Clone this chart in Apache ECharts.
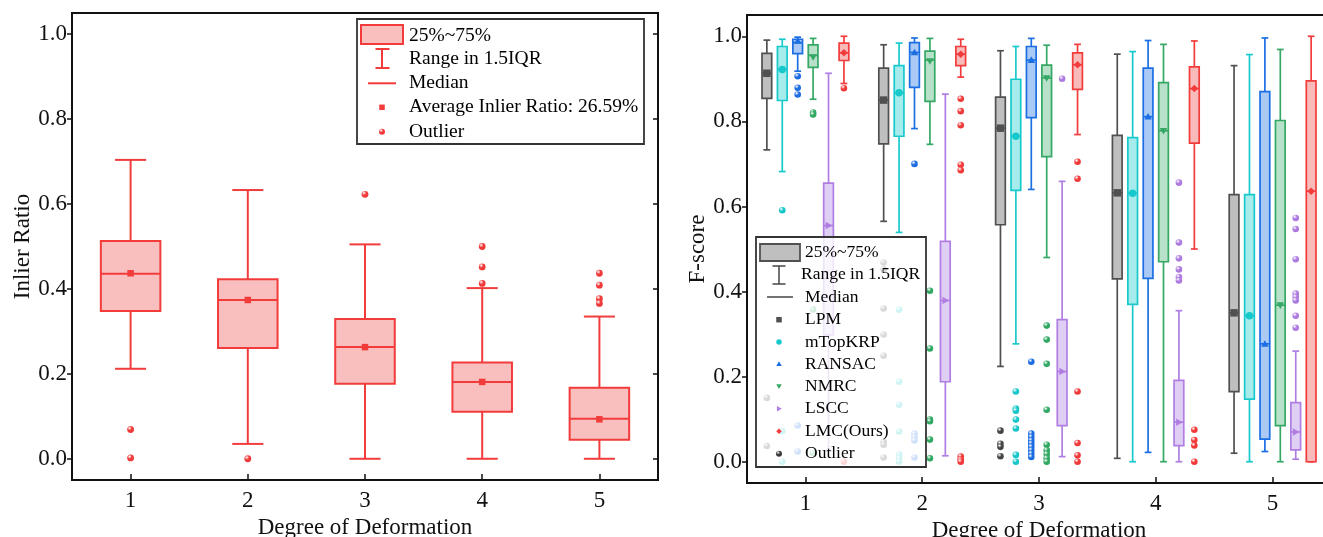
<!DOCTYPE html>
<html>
<head>
<meta charset="utf-8">
<script src="https://cdn.jsdelivr.net/npm/echarts@6/dist/echarts.min.js"></script>
<style>
  html, body { margin: 0; padding: 0; background: #fff; }
  #chart { width: 1323px; height: 537px; }
</style>
</head>
<body>
<div id="chart"></div>
<script>
// ---------- data ----------
const degrees = ['1', '2', '3', '4', '5'];
const yTicks = [0, 0.2, 0.4, 0.6, 0.8, 1.0];

// Inlier ratio per degree: [lower whisker, Q1, median, Q3, upper whisker]
const inlierStats = [
  [0.212, 0.348, 0.436, 0.513, 0.704],
  [0.035, 0.261, 0.374, 0.423, 0.633],
  [0.000, 0.177, 0.263, 0.329, 0.505],
  [0.000, 0.111, 0.181, 0.227, 0.402],
  [0.000, 0.045, 0.094, 0.167, 0.335]
];
const inlierMeans = [0.437, 0.374, 0.263, 0.181, 0.093];
const inlierOutliers = [[0.069, 0.002], [0.0], [0.623], [0.500, 0.452, 0.413], [0.437, 0.409, 0.377, 0.366]];

// F-score per method and degree: [lower whisker, Q1, median, Q3, upper whisker]
const methodNames = ['LPM', 'mTopKRP', 'RANSAC', 'NMRC', 'LSCC', 'LMC(Ours)'];

const lpmStats = [
  [0.733, 0.854, 0.913, 0.960, 0.991],
  [0.565, 0.747, 0.850, 0.925, 0.980],
  [0.224, 0.557, 0.784, 0.857, 0.966],
  [0.008, 0.430, 0.632, 0.767, 0.958],
  [0.020, 0.165, 0.350, 0.628, 0.931]
];
const lpmMeans = [0.913, 0.850, 0.784, 0.632, 0.350];
const lpmOutliers = [[0.150, 0.037], [0.468, 0.452, 0.360, 0.299, 0.249, 0.047, 0.040, 0.010], [0.073, 0.042, 0.035, 0.013], [], []];

const mtopStats = [
  [0.682, 0.849, 0.922, 0.976, 0.993],
  [0.539, 0.765, 0.867, 0.931, 0.984],
  [0.277, 0.638, 0.765, 0.899, 0.976],
  [0.000, 0.370, 0.631, 0.762, 0.964],
  [0.000, 0.147, 0.343, 0.628, 0.957]
];
const mtopMeans = [0.922, 0.867, 0.765, 0.631, 0.343];
const mtopOutliers = [[0.591, 0.072, 0.0], [0.357, 0.188, 0.134, 0.071, 0.017, 0.008, 0.0], [0.165, 0.125, 0.120, 0.099, 0.078, 0.016, 0.0], [], []];

const ransacStats = [
  [0.918, 0.959, 0.985, 0.993, 0.998],
  [0.783, 0.880, 0.962, 0.985, 0.996],
  [0.640, 0.809, 0.944, 0.976, 0.995],
  [0.022, 0.431, 0.811, 0.925, 0.990],
  [0.024, 0.053, 0.277, 0.870, 0.996]
];
const ransacMeans = [0.989, 0.962, 0.944, 0.811, 0.277];
const ransacOutliers = [[0.906, 0.879, 0.863, 0.085, 0.024], [0.700, 0.066, 0.058, 0.050, 0.010], [0.235, 0.066, 0.058, 0.050, 0.043, 0.035, 0.027, 0.019, 0.011], [], []];

const nmrcStats = [
  [0.852, 0.927, 0.955, 0.980, 0.995],
  [0.746, 0.847, 0.944, 0.965, 0.995],
  [0.480, 0.717, 0.902, 0.932, 0.979],
  [0.000, 0.470, 0.778, 0.891, 0.981],
  [0.000, 0.085, 0.368, 0.802, 0.969]
];
const nmrcMeans = [0.951, 0.942, 0.902, 0.778, 0.368];
const nmrcOutliers = [[0.821, 0.816, 0.358, 0.020], [0.402, 0.266, 0.099, 0.095, 0.052, 0.008], [0.320, 0.287, 0.230, 0.122, 0.040, 0.027, 0.018, 0.008, 0.0], [], []];

const lsccStats = [
  [0.025, 0.298, 0.555, 0.655, 0.913],
  [0.014, 0.188, 0.379, 0.518, 0.864],
  [0.012, 0.085, 0.212, 0.334, 0.659],
  [0.000, 0.038, 0.093, 0.191, 0.355],
  [0.006, 0.028, 0.070, 0.139, 0.260]
];
const lsccMeans = [0.555, 0.379, 0.212, 0.093, 0.070];
const lsccOutliers = [[], [], [0.900], [0.656, 0.515, 0.478, 0.452, 0.434, 0.426], [0.573, 0.547, 0.476, 0.395, 0.387, 0.379, 0.343, 0.315]];

const lmcStats = [
  [0.889, 0.943, 0.961, 0.984, 1.000],
  [0.904, 0.931, 0.958, 0.976, 0.993],
  [0.769, 0.875, 0.933, 0.961, 0.981],
  [0.500, 0.749, 0.877, 0.928, 0.989],
  [0.000, 0.000, 0.636, 0.895, 1.000]
];
const lmcMeans = [0.961, 0.958, 0.933, 0.877, 0.636];
const lmcOutliers = [[0.878, 0.0], [0.853, 0.824, 0.791, 0.698, 0.685, 0.012, 0.005, 0.0], [0.705, 0.665, 0.165, 0.044, 0.015, 0.0], [0.075, 0.051, 0.038, 0.0], []];

// ---------- styling ----------
const FONT = "'Liberation Serif', 'Times New Roman', serif";
const INK = '#111';
const RED = { stroke: '#f23c3c', fill: '#f9bebe', dot: '#f03a3a' };

const methodStyles = [
  { stroke: '#505050', fill: '#bfbfbf', dot: '#444444', marker: 'square' },
  { stroke: '#18c9cc', fill: '#a6ecec', dot: '#17c6c9', marker: 'circle' },
  { stroke: '#1c6fe3', fill: '#aac9f4', dot: '#1b6ce0', marker: 'triangle' },
  { stroke: '#35a865', fill: '#b7e1c9', dot: '#2fa862', marker: 'down' },
  { stroke: '#b07ee2', fill: '#e0cff5', dot: '#ad7be0', marker: 'right' },
  { stroke: '#f23c3c', fill: '#f9baba', dot: '#f03a3a', marker: 'diamond' }
];
const methodStats = [lpmStats, mtopStats, ransacStats, nmrcStats, lsccStats, lmcStats];
const methodMeans = [lpmMeans, mtopMeans, ransacMeans, nmrcMeans, lsccMeans, lmcMeans];
const methodOutliers = [lpmOutliers, mtopOutliers, ransacOutliers, nmrcOutliers, lsccOutliers, lmcOutliers];

function sphere(color) {
  return new echarts.graphic.RadialGradient(0.35, 0.3, 0.75, [
    { offset: 0, color: '#ffffff' },
    { offset: 0.45, color: color },
    { offset: 1, color: color }
  ]);
}

function markerShape(kind, x, y, s, color) {
  const h = s / 2;
  const st = { fill: color, stroke: null };
  switch (kind) {
    case 'square': return { type: 'rect', shape: { x: x - h, y: y - h, width: s, height: s }, style: st };
    case 'circle': return { type: 'circle', shape: { cx: x, cy: y, r: h }, style: st };
    case 'triangle': return { type: 'polygon', shape: { points: [[x, y - h], [x + h, y + h * 0.75], [x - h, y + h * 0.75]] }, style: st };
    case 'down': return { type: 'polygon', shape: { points: [[x - h, y - h * 0.75], [x + h, y - h * 0.75], [x, y + h]] }, style: st };
    case 'right': return { type: 'polygon', shape: { points: [[x - h * 0.75, y - h], [x + h, y], [x - h * 0.75, y + h]] }, style: st };
    default: return { type: 'polygon', shape: { points: [[x, y - h], [x + h, y], [x, y + h], [x - h, y]] }, style: st };
  }
}

// Box + whiskers + median + mean marker, positioned within the category band
function boxRenderer(cfg) {
  return function (params, api) {
    const cat = api.value(0);
    const band = api.size([1, 0])[0];
    const cx = api.coord([cat, 0])[0] + cfg.slot * band * cfg.slotStep;
    const y = i => api.coord([cat, api.value(i)])[1];
    const yLo = y(1), yQ1 = y(2), yMed = y(3), yQ3 = y(4), yHi = y(5), yMean = y(6);
    const bw = band * cfg.boxFrac, cw = band * cfg.capFrac;
    const ls = { stroke: cfg.stroke, lineWidth: cfg.lineWidth };
    return {
      type: 'group',
      children: [
        { type: 'line', shape: { x1: cx, y1: yHi, x2: cx, y2: yQ3 }, style: ls },
        { type: 'line', shape: { x1: cx, y1: yQ1, x2: cx, y2: yLo }, style: ls },
        { type: 'line', shape: { x1: cx - cw / 2, y1: yHi, x2: cx + cw / 2, y2: yHi }, style: ls },
        { type: 'line', shape: { x1: cx - cw / 2, y1: yLo, x2: cx + cw / 2, y2: yLo }, style: ls },
        { type: 'rect', shape: { x: cx - bw / 2, y: yQ3, width: bw, height: yQ1 - yQ3 },
          style: { fill: cfg.fill, stroke: cfg.stroke, lineWidth: cfg.lineWidth } },
        { type: 'line', shape: { x1: cx - bw / 2, y1: yMed, x2: cx + bw / 2, y2: yMed }, style: ls },
        markerShape(cfg.marker, cx, yMean, cfg.markerSize, cfg.stroke)
      ]
    };
  };
}

function outlierRenderer(cfg) {
  return function (params, api) {
    const cat = api.value(0);
    const band = api.size([1, 0])[0];
    const p = api.coord([cat, api.value(1)]);
    return {
      type: 'circle',
      shape: { cx: p[0] + cfg.slot * band * cfg.slotStep, cy: p[1], r: cfg.r },
      style: { fill: sphere(cfg.color), stroke: null }
    };
  };
}

function boxRows(stats, means) {
  return stats.map((s, i) => [i].concat(s, [means[i]]));
}
function outlierRows(lists) {
  const rows = [];
  lists.forEach((vals, i) => vals.forEach(v => rows.push([i, v])));
  return rows;
}

// ---------- series ----------
const series = [];
series.push({
  type: 'custom', name: 'Inlier Ratio', xAxisIndex: 0, yAxisIndex: 0,
  encode: { x: 0, y: [1, 2, 3, 4, 5, 6] },
  renderItem: boxRenderer({ slot: 0, slotStep: 0, boxFrac: 0.508, capFrac: 0.265,
    stroke: RED.stroke, fill: RED.fill, lineWidth: 2, marker: 'square', markerSize: 6.5 }),
  data: boxRows(inlierStats, inlierMeans), z: 3
});
series.push({
  type: 'custom', name: 'Inlier Outlier', xAxisIndex: 0, yAxisIndex: 0,
  encode: { x: 0, y: 1 },
  renderItem: outlierRenderer({ slot: 0, slotStep: 0, r: 3.4, color: RED.dot }),
  data: outlierRows(inlierOutliers), z: 4
});

const SLOT_STEP = 0.132;
methodNames.forEach((name, k) => {
  const st = methodStyles[k];
  const slot = k - 2.5;
  series.push({
    type: 'custom', name: name, xAxisIndex: 1, yAxisIndex: 2,
    encode: { x: 0, y: [1, 2, 3, 4, 5, 6] },
    renderItem: boxRenderer({ slot, slotStep: SLOT_STEP, boxFrac: 0.083, capFrac: 0.058,
      stroke: st.stroke, fill: st.fill, lineWidth: 1.7, marker: st.marker, markerSize: 7.5 }),
    data: boxRows(methodStats[k], methodMeans[k]), z: 3
  });
  series.push({
    type: 'custom', name: name + ' outliers', xAxisIndex: 1, yAxisIndex: 2,
    encode: { x: 0, y: 1 },
    renderItem: outlierRenderer({ slot, slotStep: SLOT_STEP, r: 3.3, color: st.dot }),
    data: outlierRows(methodOutliers[k]), z: 4
  });
});

// ---------- axes ----------
function catAxis(gridIndex, labelMargin, nameGap) {
  return {
    gridIndex, type: 'category', data: degrees, boundaryGap: true,
    axisLine: { show: true, onZero: false, lineStyle: { color: INK, width: 2 } },
    axisTick: { show: true, alignWithLabel: true, inside: true, length: 6, lineStyle: { color: INK, width: 1.5 } },
    axisLabel: { fontFamily: FONT, fontSize: 23, color: INK, margin: labelMargin },
    splitLine: { show: false },
    name: 'Degree of Deformation', nameLocation: 'middle', nameGap,
    nameTextStyle: { fontFamily: FONT, fontSize: 23, color: INK }
  };
}
function valAxis(gridIndex, name) {
  return {
    gridIndex, type: 'value', min: -0.05, max: 1.05,
    axisLine: { show: true, onZero: false, lineStyle: { color: INK, width: 2 } },
    axisTick: { show: true, length: 5, customValues: yTicks, lineStyle: { color: INK, width: 1.5 } },
    axisLabel: { customValues: yTicks, formatter: v => v.toFixed(1), fontFamily: FONT, fontSize: 23, color: INK, margin: 5 },
    splitLine: { show: false },
    name, nameLocation: 'middle', nameGap: 38, nameRotate: 90,
    nameTextStyle: { fontFamily: FONT, fontSize: 23, color: INK }
  };
}

// ---------- legends ----------
function txt(x, y, text, size) {
  return { type: 'text', x, y, z: 101,
    style: { text, font: size + 'px ' + FONT, fill: '#000', align: 'left', verticalAlign: 'middle' } };
}
function line(x1, y1, x2, y2, color, w) {
  return { type: 'line', z: 101, shape: { x1, y1, x2, y2 }, style: { stroke: color, lineWidth: w } };
}
function withZ(el) { el.z = 101; return el; }

const leftLegend = [
  { type: 'rect', z: 100, shape: { x: 357, y: 19, width: 287, height: 125 }, style: { fill: '#fff', stroke: '#333', lineWidth: 1.8 } },
  { type: 'rect', z: 101, shape: { x: 361, y: 25, width: 42, height: 19 }, style: { fill: RED.fill, stroke: RED.stroke, lineWidth: 2 } },
  line(382, 49, 382, 68, RED.stroke, 2),
  line(375.5, 49, 389.5, 49, RED.stroke, 2),
  line(375.5, 68, 389.5, 68, RED.stroke, 2),
  line(368, 83.3, 396, 83.3, RED.stroke, 2),
  withZ(markerShape('square', 382, 107.3, 5.5, RED.stroke)),
  { type: 'circle', z: 101, shape: { cx: 382, cy: 131.7, r: 3 }, style: { fill: sphere(RED.dot) } },
  txt(409, 35.7, '25%~75%', 19.5),
  txt(409, 59, 'Range in 1.5IQR', 19.5),
  txt(409, 83.3, 'Median', 19.5),
  txt(409, 107.3, 'Average Inlier Ratio: 26.59%', 19.5),
  txt(409, 131.7, 'Outlier', 19.5)
];

const GRAY = '#505050';
const rightLegend = [
  { type: 'rect', z: 100, shape: { x: 756, y: 237, width: 170, height: 230 }, style: { fill: 'rgba(255,255,255,0.8)', stroke: '#333', lineWidth: 1.8 } },
  { type: 'rect', z: 101, shape: { x: 760, y: 244, width: 40, height: 17 }, style: { fill: '#bfbfbf', stroke: GRAY, lineWidth: 1.8 } },
  line(779, 266, 779, 284, GRAY, 1.6),
  line(772.5, 266, 785.5, 266, GRAY, 1.6),
  line(772.5, 284, 785.5, 284, GRAY, 1.6),
  line(767, 297, 793, 297, GRAY, 1.6),
  txt(805, 252.7, '25%~75%', 17.5),
  txt(801, 274.7, 'Range in 1.5IQR', 17.5),
  txt(805, 297, 'Median', 17.5)
];
const legendRowsY = [319.7, 342, 364, 386.3, 408.7, 431.3];
methodNames.forEach((name, k) => {
  rightLegend.push(withZ(markerShape(methodStyles[k].marker, 779, legendRowsY[k], 5.5, methodStyles[k].stroke)));
  rightLegend.push(txt(805, legendRowsY[k], name, 17.5));
});
rightLegend.push({ type: 'circle', z: 101, shape: { cx: 779, cy: 453.7, r: 3 }, style: { fill: sphere('#3a3a3a') } });
rightLegend.push(txt(805, 453.7, 'Outlier', 17.5));

// ---------- chart ----------
const chart = echarts.init(document.getElementById('chart'), null, { renderer: 'canvas' });
chart.setOption({
  animation: false,
  backgroundColor: '#fff',
  grid: [
    { left: 72, top: 13, width: 586, height: 467, outerBoundsMode: 'none', containLabel: false,
      show: true, borderColor: INK, borderWidth: 2, backgroundColor: 'transparent' },
    { left: 747, top: 15, width: 584, height: 468, outerBoundsMode: 'none', containLabel: false,
      show: true, borderColor: INK, borderWidth: 2, backgroundColor: 'transparent' }
  ],
  xAxis: [catAxis(0, 9, 31), catAxis(1, 9, 32)],
  yAxis: [
    valAxis(0, 'Inlier Ratio'),
    {
      gridIndex: 0, type: 'value', position: 'right', min: -0.05, max: 1.05,
      axisLine: { show: true, onZero: false, lineStyle: { color: INK, width: 2 } },
      axisTick: { show: true, inside: true, length: 5, customValues: yTicks, lineStyle: { color: INK, width: 1.5 } },
      axisLabel: { show: false }, splitLine: { show: false }
    },
    valAxis(1, 'F-score')
  ],
  series,
  graphic: { elements: leftLegend.concat(rightLegend) }
});
</script>
</body>
</html>
